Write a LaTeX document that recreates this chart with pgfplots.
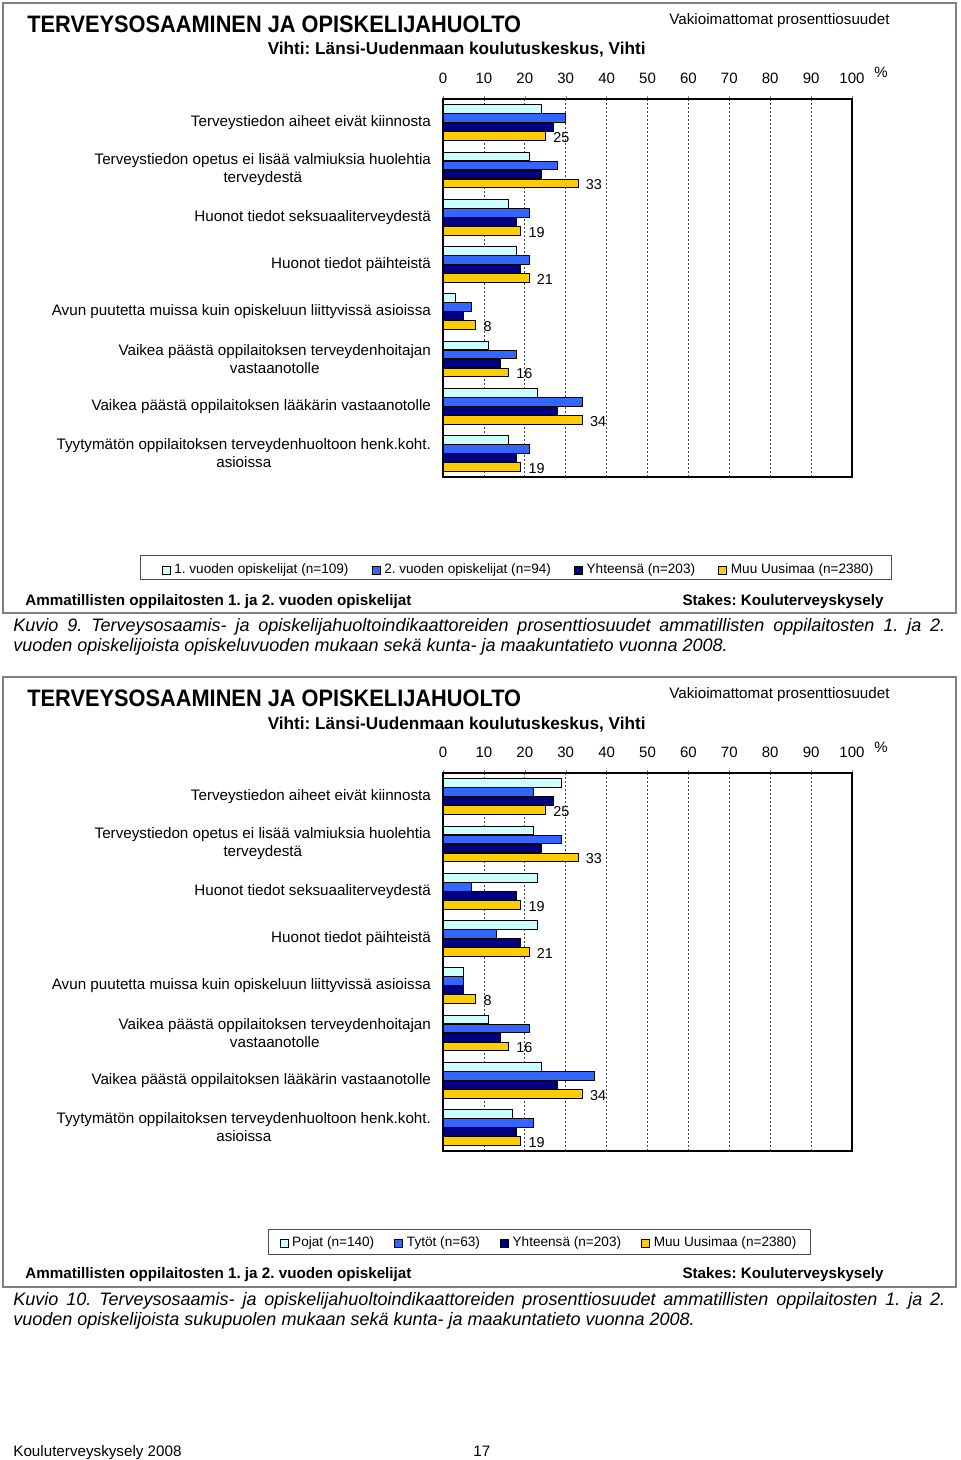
\documentclass[border=0pt]{standalone}
\usepackage{pgfplots}
\pgfplotsset{compat=1.18}
\usepackage{fontspec}
\setmainfont{Liberation Sans}
\usepackage{graphicx}
\frenchspacing
\definecolor{cLight}{RGB}{204,255,255}
\definecolor{cBlue}{RGB}{51,102,255}
\definecolor{cNavy}{RGB}{0,0,128}
\definecolor{cYellow}{RGB}{255,204,0}
\definecolor{frameGray}{RGB}{128,128,128}
\newcommand{\catfont}{\fontsize{7.6}{9}\selectfont}
\pgfplotsset{chartstyle/.style={
  scale only axis, width=204.5pt, height=189pt,
  xbar, bar width=4.3pt,
  xmin=0, xmax=100, ymin=-0.5, ymax=7.5, y dir=reverse,
  xtick={0,10,...,100}, xtick pos=right, xticklabel pos=right,
  tick align=outside, major tick length=1.5pt,
  ytick={0,...,7}, ytick style={draw=none},
  yticklabels={{Terveystiedon aiheet eivät kiinnosta},
    {Terveystiedon opetus ei lisää valmiuksia huolehtia\\terveydestä},
    {Huonot tiedot seksuaaliterveydestä},
    {Huonot tiedot päihteistä},
    {Avun puutetta muissa kuin opiskeluun liittyvissä asioissa},
    {Vaikea päästä oppilaitoksen terveydenhoitajan\\vastaanotolle},
    {Vaikea päästä oppilaitoksen lääkärin vastaanotolle},
    {Tyytymätön oppilaitoksen terveydenhuoltoon henk.koht.\\asioissa}},
  yticklabel style={font=\catfont, align=center, xshift=-1pt},
  xticklabel style={font=\fontsize{7.5}{9}\selectfont, yshift=2.5pt},
  /pgf/number format/assume math mode=true,
  xmajorgrids, grid style={black!75, dash pattern=on 1.2pt off 0.8pt, line width=0.4pt},
  axis line style={black, line width=0.6pt},
  every axis plot/.append style={draw=black, line width=0.35pt},
  legend columns=4,
  legend image code/.code={\draw[##1] (0pt,-2pt) rectangle (4pt,2pt);},
  legend style={draw=none, fill=none, anchor=center, font=\fontsize{6.8}{8}\selectfont, inner sep=0pt},
  legend cell align=left,
}}
\begin{document}
\begin{tikzpicture}
\begin{scope}[x=0.5pt,y=-0.5pt]
\useasboundingbox (0,0) rectangle (960,1460);
% ================= CHART 1 texts =================
\draw[frameGray, line width=1pt] (3,3) rectangle (956,613);
\node[anchor=base west, inner sep=0, font=\bfseries\fontsize{11.9}{12}\selectfont] at (27,32.5) {\scalebox{0.915}[1]{TERVEYSOSAAMINEN JA OPISKELIJAHUOLTO}};
\node[anchor=base east, inner sep=0, font=\bfseries\fontsize{8.6}{10}\selectfont] at (646,55) {Vihti: Länsi-Uudenmaan koulutuskeskus, Vihti};
\node[anchor=base east, inner sep=0, font=\fontsize{7.6}{9}\selectfont] at (890,24.5) {Vakioimattomat prosenttiosuudet};
\node[anchor=base west, inner sep=0, font=\fontsize{7.5}{9}\selectfont] at (874,78) {\%};
\draw[black!70, line width=0.5pt] (140,555) rectangle (891,579);
\node[anchor=base west, inner sep=0, font=\bfseries\fontsize{7.6}{9}\selectfont] at (25,605.5) {Ammatillisten oppilaitosten 1. ja 2. vuoden opiskelijat};
\node[anchor=base east, inner sep=0, font=\bfseries\fontsize{7.6}{9}\selectfont] at (884,605.5) {Stakes: Kouluterveyskysely};
\node[anchor=north west, inner sep=0, text width=466pt, align=justify, font=\itshape\fontsize{9}{10}\selectfont] at (13,618) {\tolerance=9999 Kuvio 9. Terveysosaamis- ja opiskelijahuoltoindikaattoreiden prosenttiosuudet ammatillisten oppilaitosten 1. ja 2.\linebreak vuoden opiskelijoista opiskeluvuoden mukaan sekä kunta- ja maakuntatieto vuonna 2008.};
% ================= CHART 2 texts =================
\draw[frameGray, line width=1pt] (3,677) rectangle (956,1287);
\node[anchor=base west, inner sep=0, font=\bfseries\fontsize{11.9}{12}\selectfont] at (27,706.5) {\scalebox{0.915}[1]{TERVEYSOSAAMINEN JA OPISKELIJAHUOLTO}};
\node[anchor=base east, inner sep=0, font=\bfseries\fontsize{8.6}{10}\selectfont] at (646,729) {Vihti: Länsi-Uudenmaan koulutuskeskus, Vihti};
\node[anchor=base east, inner sep=0, font=\fontsize{7.6}{9}\selectfont] at (890,698.5) {Vakioimattomat prosenttiosuudet};
\node[anchor=base west, inner sep=0, font=\fontsize{7.5}{9}\selectfont] at (874,752) {\%};
\draw[black!70, line width=0.5pt] (268,1229) rectangle (810,1254);
\node[anchor=base west, inner sep=0, font=\bfseries\fontsize{7.6}{9}\selectfont] at (25,1278.5) {Ammatillisten oppilaitosten 1. ja 2. vuoden opiskelijat};
\node[anchor=base east, inner sep=0, font=\bfseries\fontsize{7.6}{9}\selectfont] at (884,1278.5) {Stakes: Kouluterveyskysely};
\node[anchor=north west, inner sep=0, text width=466pt, align=justify, font=\itshape\fontsize{9}{10}\selectfont] at (13,1292) {\tolerance=9999 Kuvio 10. Terveysosaamis- ja opiskelijahuoltoindikaattoreiden prosenttiosuudet ammatillisten oppilaitosten 1. ja 2.\linebreak vuoden opiskelijoista sukupuolen mukaan sekä kunta- ja maakuntatieto vuonna 2008.};
% page footer
\node[anchor=base west, inner sep=0, font=\fontsize{7.6}{9}\selectfont] at (13,1456) {Kouluterveyskysely 2008};
\node[anchor=base west, inner sep=0, font=\fontsize{7.6}{9}\selectfont] at (473,1456) {17};
\end{scope}
% ================= CHART 1 axis =================
\begin{axis}[chartstyle, at={(323.75pt,-144pt)}, anchor=center,
  legend style={at={(0.187,-0.246)}, /tikz/every even column/.append style={column sep=9.5pt}}]
\addplot[fill=cLight, bar shift=6.75pt] coordinates {(24,0) (21,1) (16,2) (18,3) (3,4) (11,5) (23,6) (16,7)};
\addplot[fill=cBlue, bar shift=2.25pt] coordinates {(30,0) (28,1) (21,2) (21,3) (7,4) (18,5) (34,6) (21,7)};
\addplot[fill=cNavy, bar shift=-2.25pt] coordinates {(27,0) (24,1) (18,2) (19,3) (5,4) (14,5) (28,6) (18,7)};
\addplot[fill=cYellow, bar shift=-6.75pt, nodes near coords,
  nodes near coords style={font=\fontsize{7.2}{9}\selectfont, anchor=west, xshift=0.5pt, yshift=-0.8pt, black}]
  coordinates {(25,0) (33,1) (19,2) (21,3) (8,4) (16,5) (34,6) (19,7)};
\legend{1. vuoden opiskelijat (n=109), 2. vuoden opiskelijat (n=94), Yhteensä (n=203), Muu Uusimaa (n=2380)}
\end{axis}
% ================= CHART 2 axis =================
\begin{axis}[chartstyle, at={(323.75pt,-481pt)}, anchor=center,
  legend style={at={(0.237,-0.244)}, /tikz/every even column/.append style={column sep=8pt}}]
\addplot[fill=cLight, bar shift=6.75pt] coordinates {(29,0) (22,1) (23,2) (23,3) (5,4) (11,5) (24,6) (17,7)};
\addplot[fill=cBlue, bar shift=2.25pt] coordinates {(22,0) (29,1) (7,2) (13,3) (5,4) (21,5) (37,6) (22,7)};
\addplot[fill=cNavy, bar shift=-2.25pt] coordinates {(27,0) (24,1) (18,2) (19,3) (5,4) (14,5) (28,6) (18,7)};
\addplot[fill=cYellow, bar shift=-6.75pt, nodes near coords,
  nodes near coords style={font=\fontsize{7.2}{9}\selectfont, anchor=west, xshift=0.5pt, yshift=-0.8pt, black}]
  coordinates {(25,0) (33,1) (19,2) (21,3) (8,4) (16,5) (34,6) (19,7)};
\legend{Pojat (n=140), Tytöt (n=63), Yhteensä (n=203), Muu Uusimaa (n=2380)}
\end{axis}
\end{tikzpicture}
\end{document}
